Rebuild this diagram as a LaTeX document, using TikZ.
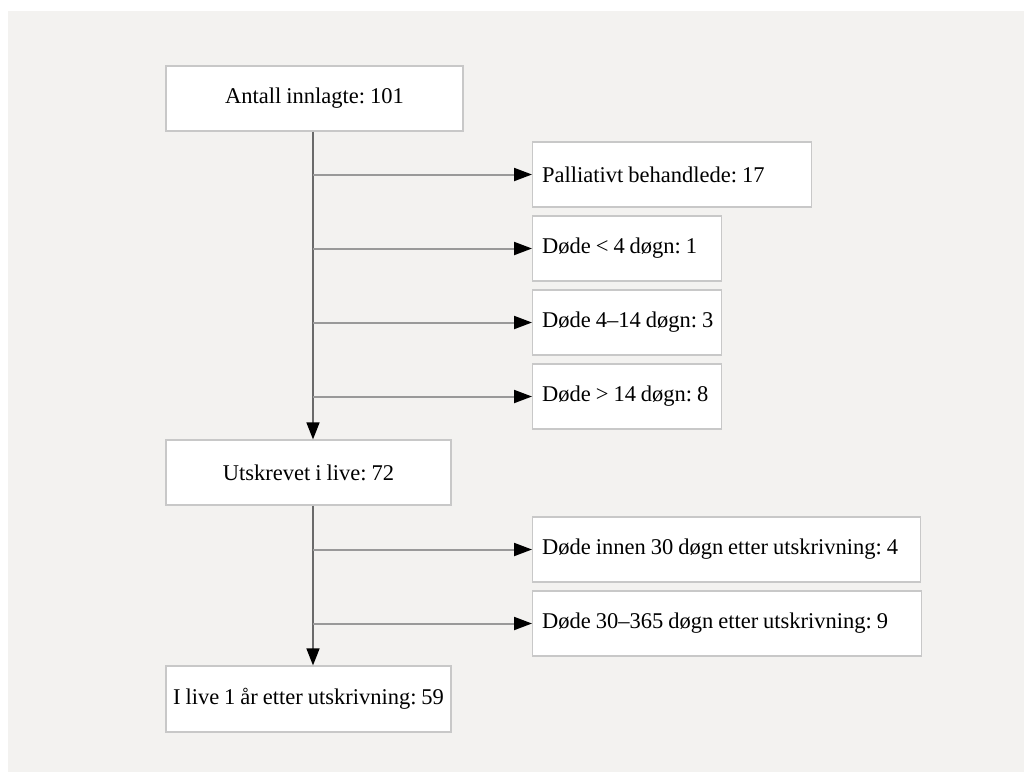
\documentclass[tikz,border=0pt]{standalone}
\usepackage{fontspec}
\setmainfont{Liberation Serif}
\usetikzlibrary{arrows.meta}
\definecolor{bggray}{HTML}{F3F2F0}
\definecolor{boxline}{HTML}{C8C8C8}
\definecolor{hline}{HTML}{999999}
\definecolor{vline}{HTML}{6A6A6A}
\newcommand{\boxfont}{\fontsize{22.5}{26}\selectfont\frenchspacing\fontdimen2\font=0.22em\fontdimen3\font=0.03em\fontdimen4\font=0.02em}
\tikzset{
  cbox/.style={draw=boxline, line width=1.2pt, fill=white, minimum height=65pt, inner sep=0pt, align=center, font=\boxfont},
  lbox/.style={draw=boxline, line width=1.2pt, fill=white, minimum height=65pt, anchor=west, inner sep=0pt},
  ltext/.style={anchor=west, inner sep=0pt, font=\boxfont},
  branch/.style={draw=hline, line width=2pt, -{Triangle[length=18pt,width=13pt,color=black]}},
  downarrow/.style={draw=vline, line width=1.5pt, -{Triangle[length=17pt,width=13pt,color=black]}}
}
\begin{document}
\begin{tikzpicture}[x=1pt,y=-1pt]
\useasboundingbox (0,0) rectangle (1024,772);
\fill[white] (0,0) rectangle (1024,772);
\fill[bggray] (8,11) rectangle (1024,772);
\coordinate (trunk) at (313,0);
\node[cbox, minimum width=297pt] (a) at (314.5,98.5) {Antall innlagte: 101};
\node[lbox, minimum width=279pt] (p) at (532,174.5) {};
\node[lbox, minimum width=189pt] (d1) at (532,248.5) {};
\node[lbox, minimum width=189pt] (d2) at (532,322.5) {};
\node[lbox, minimum width=189pt] (d3) at (532,396.5) {};
\node[cbox, minimum width=285pt] (u) at (308.5,472.5) {Utskrevet i live: 72};
\node[lbox, minimum width=388pt] (e1) at (532,549.5) {};
\node[lbox, minimum width=389pt] (e2) at (532,623.5) {};
\node[cbox, minimum width=285pt, minimum height=66pt] (l) at (308.5,699) {I live 1 år etter utskrivning: 59};
\node[ltext] (pt) at ([xshift=10pt]p.west) {Palliativt behandlede: 17};
\node[ltext] (d1t) at ([xshift=10pt]d1.west) {Døde < 4 døgn: 1};
\node[ltext] (d2t) at ([xshift=10pt]d2.west) {Døde 4–14 døgn: 3};
\node[ltext] (d3t) at ([xshift=10pt]d3.west) {Døde > 14 døgn: 8};
\node[ltext] (e1t) at ([xshift=10pt]e1.west) {Døde innen 30 døgn etter utskrivning: 4};
\node[ltext] (e2t) at ([xshift=10pt]e2.west) {Døde 30–365 døgn etter utskrivning: 9};
\draw[downarrow] (a.south -| trunk) -- (u.north -| trunk);
\draw[downarrow] (u.south -| trunk) -- (l.north -| trunk);
\foreach \n in {p,d1,d2,d3,e1,e2}{
  \draw[branch] (\n.west -| trunk) -- (\n.west);
}
\end{tikzpicture}
\end{document}
